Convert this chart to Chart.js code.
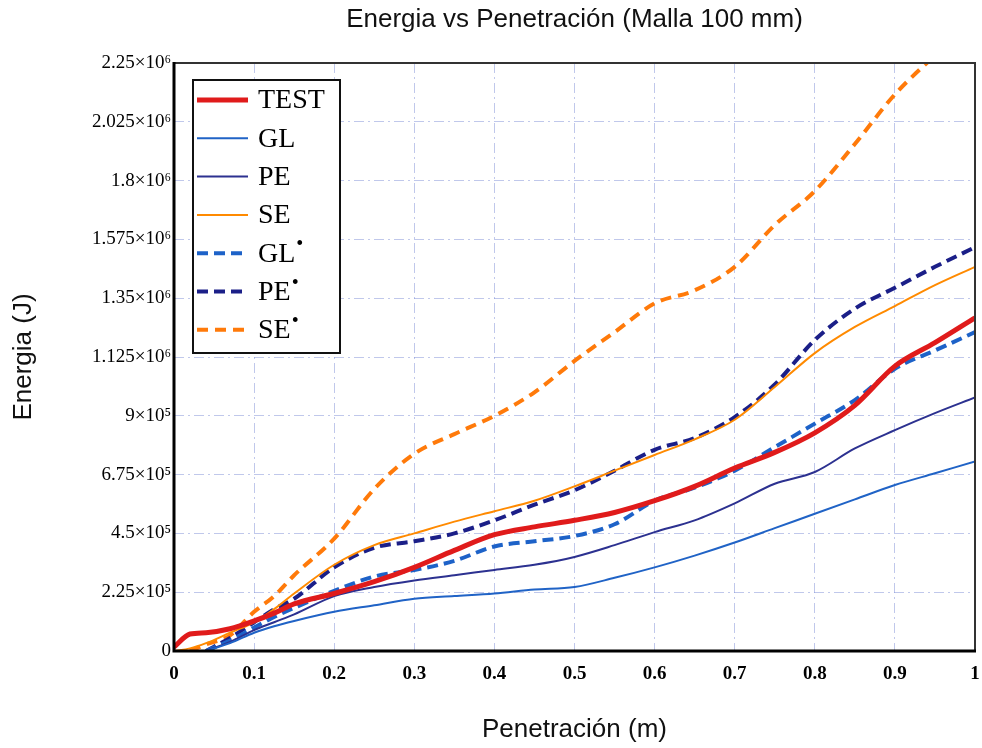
<!DOCTYPE html>
<html><head><meta charset="utf-8">
<script src="https://cdn.jsdelivr.net/npm/chart.js@4"></script>
<style>html,body{margin:0;padding:0;background:#fff}#wrap{width:982px;height:748px;position:relative}</style>
</head><body><div id="wrap"><canvas id="c" width="982" height="748"></canvas></div>
<script>
// Penetration (m)
const penetration = [0, 0.02, 0.04, 0.07, 0.1, 0.125, 0.15, 0.2, 0.25, 0.3, 0.35, 0.4, 0.45, 0.5, 0.55, 0.6, 0.65, 0.7, 0.75, 0.8, 0.85, 0.9, 0.95, 1.0];
// Energy (J)
const testEnergy = [15000, 65000, 70000, 85000, 115000, 145000, 180000, 220000, 265000, 320000, 385000, 445000, 475000, 500000, 530000, 575000, 630000, 700000, 760000, 835000, 940000, 1090000, 1180000, 1275000];
const glEnergy   = [null, null, 0, 30000, 70000, 95000, 115000, 150000, 175000, 200000, 210000, 220000, 235000, 245000, 280000, 320000, 365000, 415000, 470000, 525000, 580000, 635000, 680000, 725000];
const peEnergy   = [null, null, 0, 35000, 80000, 110000, 140000, 210000, 245000, 270000, 290000, 310000, 330000, 360000, 405000, 455000, 500000, 565000, 640000, 685000, 775000, 845000, 910000, 970000];
const seEnergy   = [0, 10000, 30000, 70000, 110000, 160000, 220000, 330000, 405000, 450000, 495000, 535000, 575000, 630000, 690000, 750000, 810000, 885000, 1010000, 1140000, 1240000, 1320000, 1400000, 1470000];
const glStarEnergy = [null, null, 0, 40000, 90000, 130000, 165000, 230000, 285000, 310000, 345000, 400000, 420000, 440000, 485000, 575000, 625000, 690000, 780000, 870000, 960000, 1080000, 1150000, 1220000];
const peStarEnergy = [null, null, 0, 50000, 110000, 160000, 200000, 320000, 395000, 420000, 450000, 500000, 560000, 615000, 690000, 770000, 815000, 895000, 1020000, 1190000, 1310000, 1390000, 1470000, 1545000];
const seStarEnergy = [null, 0, 25000, 60000, 150000, 210000, 290000, 430000, 620000, 755000, 830000, 900000, 990000, 1110000, 1220000, 1330000, 1380000, 1470000, 1630000, 1760000, 1940000, 2130000, 2280000, null];

const seriesLabels = ['TEST', 'GL', 'PE', 'SE', 'GL•', 'PE•', 'SE•'];
const xTickLabels = ['0', '0.1', '0.2', '0.3', '0.4', '0.5', '0.6', '0.7', '0.8', '0.9', '1'];
const yTickLabels = ['0', '2.25×10⁵', '4.5×10⁵', '6.75×10⁵', '9×10⁵', '1.125×10⁶', '1.35×10⁶', '1.575×10⁶', '1.8×10⁶', '2.025×10⁶', '2.25×10⁶'];

const seriesValues = [testEnergy, glEnergy, peEnergy, seEnergy, glStarEnergy, peStarEnergy, seStarEnergy];
const seriesStyle = [
  {color: '#e01b1b', width: 5, dash: []},
  {color: '#2063c6', width: 2, dash: []},
  {color: '#2c3190', width: 2, dash: []},
  {color: '#ff8a00', width: 2, dash: []},
  {color: '#1d62c8', width: 4, dash: [11, 6]},
  {color: '#1b1f88', width: 4, dash: [11, 6]},
  {color: '#ff7a0a', width: 4, dash: [11, 7]}
];

function pts(vals) {
  const out = [];
  vals.forEach((v, i) => { if (v !== null) out.push({x: penetration[i], y: v}); });
  return out;
}

const datasets = seriesLabels.map((lab, i) => ({
  label: lab,
  data: pts(seriesValues[i]),
  borderColor: seriesStyle[i].color,
  backgroundColor: seriesStyle[i].color,
  borderWidth: seriesStyle[i].width,
  borderDash: seriesStyle[i].dash,
  pointRadius: 0,
  fill: false,
  cubicInterpolationMode: 'monotone'
}));

const framePlugin = {
  id: 'frame',
  afterDatasetsDraw(chart) {
    const {ctx, chartArea: a} = chart;
    ctx.save();
    ctx.strokeStyle = '#333';
    ctx.lineWidth = 2;
    ctx.beginPath();
    ctx.moveTo(a.left, a.top); ctx.lineTo(a.right, a.top); ctx.lineTo(a.right, a.bottom);
    ctx.stroke();
    ctx.strokeStyle = '#000';
    ctx.lineWidth = 3;
    ctx.beginPath();
    ctx.moveTo(a.left, a.top - 1); ctx.lineTo(a.left, a.bottom); ctx.lineTo(a.right + 1, a.bottom);
    ctx.stroke();
    ctx.restore();
  }
};

const legendPlugin = {
  id: 'insideLegend',
  afterDatasetsDraw(chart) {
    const {ctx, chartArea: a} = chart;
    const bx = a.left + 19, by = a.top + 17, bw = 147, bh = 273;
    ctx.save();
    ctx.fillStyle = '#fff';
    ctx.fillRect(bx, by, bw, bh);
    ctx.strokeStyle = '#111';
    ctx.lineWidth = 2;
    ctx.strokeRect(bx, by, bw, bh);
    chart.data.datasets.forEach((ds, i) => {
      const y = by + 20 + i * 38.3;
      ctx.strokeStyle = ds.borderColor;
      ctx.lineWidth = ds.borderWidth;
      ctx.setLineDash(ds.borderDash || []);
      ctx.beginPath();
      ctx.moveTo(bx + 4, y); ctx.lineTo(bx + 55, y);
      ctx.stroke();
      ctx.setLineDash([]);
      ctx.fillStyle = '#000';
      ctx.textBaseline = 'middle';
      ctx.textAlign = 'left';
      ctx.font = '28px "Liberation Serif"';
      const txt = ds.label;
      if (txt.endsWith('•')) {
        const base = txt.slice(0, -1);
        ctx.fillText(base, bx + 65, y + 1);
        const w = ctx.measureText(base).width;
        ctx.font = '20px "Liberation Serif"';
        ctx.fillText('•', bx + 65 + w + 1, y - 8);
      } else {
        ctx.fillText(txt, bx + 65, y + 1);
      }
    });
    ctx.restore();
  }
};

const gridCfg = {color: 'rgba(130,145,215,0.5)', lineWidth: 1, drawTicks: false};

new Chart(document.getElementById('c'), {
  type: 'line',
  data: {datasets},
  options: {
    responsive: false,
    animation: false,
    devicePixelRatio: 1,
    layout: {padding: {left: 0, right: 0, top: 0, bottom: 0}},
    plugins: {
      legend: {display: false},
      tooltip: {enabled: false},
      title: {
        display: true,
        text: 'Energia vs Penetración (Malla 100 mm)',
        fullSize: false,
        color: '#111',
        font: {family: '"Liberation Sans", Arial, sans-serif', size: 26, weight: 'normal'},
        padding: {top: 4, bottom: 27.8}
      }
    },
    scales: {
      x: {
        type: 'linear', min: 0, max: 1,
        afterFit(s) { s.height = 97; s.paddingLeft = 0; s.paddingRight = 7; },
        ticks: {
          stepSize: 0.1, padding: 12, color: '#000', maxRotation: 0, autoSkip: false,
          font: {family: '"Liberation Serif", serif', size: 19, weight: 'bold'},
          callback: (v, i) => xTickLabels[i]
        },
        grid: gridCfg,
        border: {display: false, dash: [10, 4, 2, 4]},
        title: {
          display: true, text: 'Penetración (m)', color: '#111',
          font: {family: '"Liberation Sans", Arial, sans-serif', size: 26, weight: 'normal'},
          padding: {top: 0, bottom: 3}
        }
      },
      y: {
        type: 'linear', min: 0, max: 2250000,
        afterFit(s) { s.width = 174; },
        ticks: {
          stepSize: 225000, padding: 3, color: '#000', autoSkip: false,
          font: {family: '"Liberation Serif", serif', size: 19},
          callback: (v, i) => yTickLabels[i]
        },
        grid: gridCfg,
        border: {display: false, dash: [10, 4, 2, 4]},
        title: {
          display: true, text: 'Energia (J)', color: '#111',
          font: {family: '"Liberation Sans", Arial, sans-serif', size: 26, weight: 'normal'},
          padding: {top: 8, bottom: 0}
        }
      }
    }
  },
  plugins: [framePlugin, legendPlugin]
});
</script>
</body></html>
